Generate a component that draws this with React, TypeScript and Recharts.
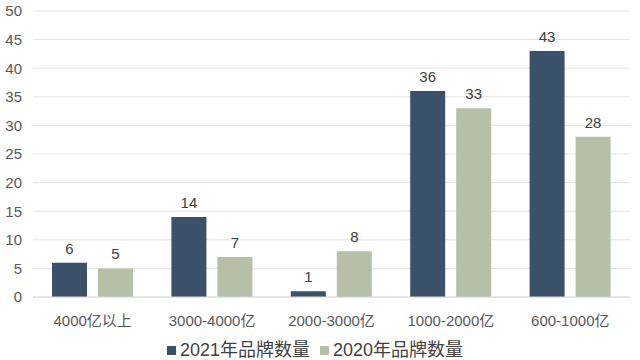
import React from "react";
import { BarChart, Bar, XAxis, YAxis, CartesianGrid, Legend, LabelList } from "recharts";

const categories = ["4000亿以上", "3000-4000亿", "2000-3000亿", "1000-2000亿", "600-1000亿"];
const brands2021 = [6, 14, 1, 36, 43];
const brands2020 = [5, 7, 8, 33, 28];
const yTicks = [0, 5, 10, 15, 20, 25, 30, 35, 40, 45, 50];
const seriesNames = ["2021年品牌数量", "2020年品牌数量"];
const seriesColors = ["#3b5069", "#b5c0a7"];

const data = categories.map((c, i) => ({ name: c, a: brands2021[i], b: brands2020[i] }));

const FONT = "'Liberation Sans', 'Noto Sans CJK SC', sans-serif";

const renderLegend = () => (
  <div style={{ display: "flex", justifyContent: "center", fontFamily: FONT, fontSize: 18, color: "#404040", height: 20, lineHeight: "20px" }}>
    {seriesNames.map((n, i) => (
      <div key={i} style={{ display: "flex", alignItems: "center", marginRight: i === 0 ? 10 : 0 }}>
        <span style={{ width: 9, height: 9, background: seriesColors[i], display: "inline-block", marginRight: 4 }} />
        <span>{n}</span>
      </div>
    ))}
  </div>
);

export default function App() {
  return (
    <div style={{ position: "absolute", left: 0, top: 0, background: "#fff" }}>
      <BarChart
        width={640}
        height={360}
        data={data}
        margin={{ top: 11, right: 10, left: 0, bottom: 0 }}
        barCategoryGap={19}
        barGap={11}
      >
        <CartesianGrid vertical={false} stroke="#e3e3e3" />
        <XAxis
          dataKey="name"
          axisLine={{ stroke: "#d9d9d9" }}
          tickLine={false}
          tick={{ fill: "#595959", fontSize: 15, fontFamily: FONT }}
          tickMargin={12}
          height={36}
          interval={0}
        />
        <YAxis
          domain={[0, 50]}
          ticks={yTicks}
          axisLine={false}
          tickLine={false}
          tickSize={0}
          tickMargin={11}
          width={33}
          tick={{ fill: "#595959", fontSize: 15, fontFamily: FONT }}
        />
        <Legend verticalAlign="bottom" height={27} content={renderLegend} wrapperStyle={{ top: 340, bottom: "auto" }} />
        <Bar dataKey="a" name={seriesNames[0]} fill={seriesColors[0]} isAnimationActive={false}>
          <LabelList dataKey="a" position="top" offset={9} fill="#404040" fontSize={15} fontFamily={FONT} />
        </Bar>
        <Bar dataKey="b" name={seriesNames[1]} fill={seriesColors[1]} isAnimationActive={false}>
          <LabelList dataKey="b" position="top" offset={9} fill="#404040" fontSize={15} fontFamily={FONT} />
        </Bar>
      </BarChart>
    </div>
  );
}
